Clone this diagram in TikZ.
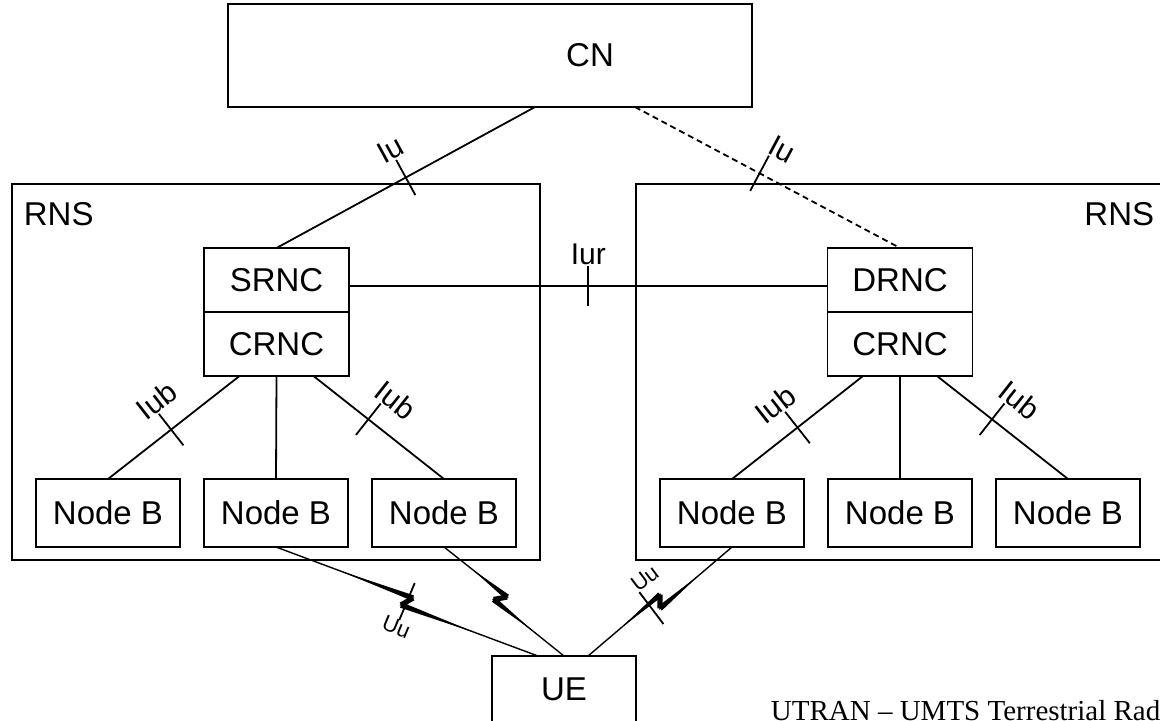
\documentclass[tikz,border=0pt]{standalone}
\usepackage{fontspec}
\setmainfont{Liberation Sans}
\newfontfamily\captionfont{Liberation Serif}
\usetikzlibrary{positioning, calc}
\tikzstyle{netbox} = [rectangle, draw=black, minimum width=72pt, minimum height=34pt, inner sep=0pt, outer sep=0pt, font=\fontsize{16.5}{19.8}\selectfont]
\tikzstyle{rncbox} = [netbox, minimum width=72.5pt, minimum height=32pt]
\tikzstyle{rnsbox} = [rectangle, draw=black, minimum width=264pt, minimum height=188pt, outer sep=0pt]
\tikzstyle{txt} = [inner sep=0pt, font=\fontsize{16.5}{19.8}\selectfont]
\tikzstyle{iflabel} = [sloped, inner sep=0pt, outer sep=10.5pt, font=\fontsize{15}{18}\selectfont]
\tikzstyle{uulabel} = [sloped, inner sep=0pt, outer sep=10pt, font=\fontsize{11}{13}\selectfont]

% short stroke across an interface line
\newcommand{\crosstick}[5]{%
  \coordinate (#1) at ($(#2)!#4!(#3)$);
  \coordinate (#1a) at ($(#1)!#5!90:(#3)$);
  \coordinate (#1b) at ($(#1)!#5!-90:(#3)$);
  \draw (#1a) -- (#1b);}

% radio link with a flash in the middle
\newcommand{\radiolink}[4]{%
  \coordinate (#1m) at ($(#2)!#4!(#3)$);
  \coordinate (#1f) at ($(#1m)!2.1pt!(#3)$);
  \coordinate (#1r) at ($(#1m)!2.1pt!(#2)$);
  \coordinate (#1z1) at ($(#1f)!2.75pt!90:(#3)$);
  \coordinate (#1z2) at ($(#1r)!2.75pt!90:(#2)$);
  \coordinate (#1s1) at ($(#2)!0.45!(#1z1)$);
  \coordinate (#1s2) at ($(#3)!0.45!(#1z2)$);
  \draw [line width=0.7pt] (#2) -- (#1z1) -- (#1z2) -- (#3);
  \fill (#1s1) -- ($(#1z1)!1.4pt!90:(#2)$) -- ($(#1z1)!1.4pt!-90:(#2)$) -- cycle;
  \fill (#1s2) -- ($(#1z2)!1.4pt!90:(#3)$) -- ($(#1z2)!1.4pt!-90:(#3)$) -- cycle;
  \draw [line width=2.6pt] (#1z1) -- (#1z2);}

\begin{document}
\begin{tikzpicture}[x=0.5pt, y=-0.5pt, line width=0.9pt]
\useasboundingbox (0,0) rectangle (1160,720);
\clip (0,0) rectangle (1160,720);

% core network
\node (cn) [netbox, minimum width=262pt, minimum height=51.5pt] at (490,55.5) {};
\node (cnlabel) [txt] at (590,55) {CN};

% the two RNS
\node (rnsl) [rnsbox] at (276,372) {};
\node (rnsr) [rnsbox] at (900,372) {};
\node (rnsltxt) [txt, anchor=west] at (23,214) {RNS};
\node (rnsrtxt) [txt, anchor=east] at (1155,214) {RNS};

\node (srnc) [rncbox] at (276.5,280) {SRNC};
\node (crncl) [rncbox, below=0pt of srnc] {CRNC};
\node (drnc) [rncbox] at (900,280) {DRNC};
\node (crncr) [rncbox, below=0pt of drnc] {CRNC};

\node (nb1) [netbox] at (108,513) {Node B};
\node (nb2) [netbox, right=12pt of nb1] {Node B};
\node (nb3) [netbox, right=12pt of nb2] {Node B};
\node (nb4) [netbox] at (732,513) {Node B};
\node (nb5) [netbox, right=12pt of nb4] {Node B};
\node (nb6) [netbox, right=12pt of nb5] {Node B};

\node (ue) [netbox, minimum height=33pt] at (564,689) {UE};
\node (caption) [anchor=base west, inner sep=0pt, font=\captionfont\fontsize{14.5}{17}\selectfont] at (770,720) {UTRAN – UMTS Terrestrial Radio Access Network};

% line ends
\coordinate (cnl) at ([xshift=22.5pt]cn.south);
\coordinate (cnr) at ([xshift=72.5pt]cn.south);
\coordinate (srncr) at ([yshift=-3pt]srnc.east);
\coordinate (drncl) at ([yshift=-3pt]drnc.west);
\coordinate (crncl1) at ([xshift=-18.5pt]crncl.south);
\coordinate (crncl3) at ([xshift=18.5pt]crncl.south);
\coordinate (crncr1) at ([xshift=-18.5pt]crncr.south);
\coordinate (crncr3) at ([xshift=18.5pt]crncr.south);
\coordinate (uel) at ([xshift=-13pt]ue.north);
\coordinate (uer) at ([xshift=12pt]ue.north);

% Iu and Iur
\draw (cnl) -- node[iflabel, above, pos=0.5] (iu1) {Iu} (srnc.north);
\crosstick{tiu1}{cnl}{srnc.north}{0.5}{10pt}
\draw [dash pattern=on 3pt off 2pt] (cnr) -- node[iflabel, above, pos=0.5] (iu2) {Iu} (drnc.north);
\crosstick{tiu2}{cnr}{drnc.north}{0.47}{10pt}
\draw (srncr) -- node[iflabel, above, pos=0.5] (iur) {Iur} (drncl);
\crosstick{tiur}{srncr}{drncl}{0.5}{10pt}

% Iub
\draw (crncl1) -- node[iflabel, above, pos=0.48] (iub1) {Iub} (nb1.north);
\crosstick{tiub1}{crncl1}{nb1.north}{0.52}{10pt}
\draw (crncl.south) -- (nb2.north);
\draw (crncl3) -- node[iflabel, above, pos=0.48] (iub2) {Iub} (nb3.north);
\crosstick{tiub2}{crncl3}{nb3.north}{0.42}{10pt}
\draw (crncr1) -- node[iflabel, above, pos=0.52] (iub3) {Iub} (nb4.north);
\crosstick{tiub3}{crncr1}{nb4.north}{0.5}{10pt}
\draw (crncr.south) -- (nb5.north);
\draw (crncr3) -- node[iflabel, above, pos=0.48] (iub4) {Iub} (nb6.north);
\crosstick{tiub4}{crncr3}{nb6.north}{0.42}{10pt}

% Uu
\radiolink{rl1}{nb2.south}{uel}{0.5}
\crosstick{tuu1}{nb2.south}{uel}{0.5}{10pt}
\path (nb2.south) -- node[uulabel, below, pos=0.5] (uu1) {Uu} (uel);
\radiolink{rl2}{nb3.south}{ue.north}{0.47}
\radiolink{rl3}{nb4.south}{uer}{0.5}
\crosstick{tuu2}{nb4.south}{uer}{0.56}{10pt}
\path (nb4.south) -- node[uulabel, above, pos=0.49] (uu2) {Uu} (uer);
\end{tikzpicture}
\end{document}
